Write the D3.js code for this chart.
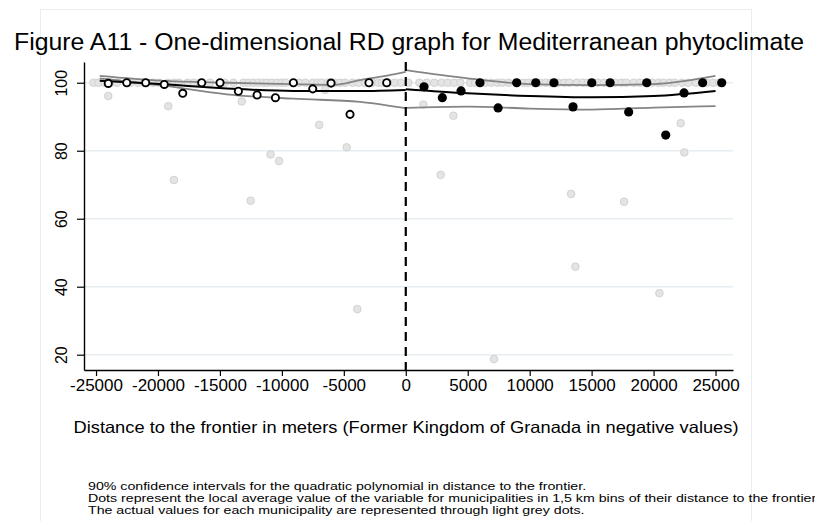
<!DOCTYPE html>
<html lang="en">
<head>
<meta charset="utf-8">
<title>Figure A11</title>
<script src="https://d3js.org/d3.v7.min.js"></script>
<style>
  body { margin: 0; background: #fff; }
  text { font-family: "Liberation Sans", Arial, sans-serif; fill: #000; }
</style>
</head>
<body>
<div id="chart"></div>
<script type="text/javascript">
	// binned averages (1,5 km bins)
	var binLeftX = [-24010, -22520, -20990, -19490, -18000, -16470, -14990, -13510, -12000, -10520, -9070, -7510, -6030, -4500, -2970, -1540],
		binLeftY = [99.8, 100, 100, 99.5, 96.9, 100, 100, 97.5, 96.4, 95.6, 100, 98.2, 99.9, 90.7, 100, 100];
	var binRightX = [1470, 2950, 4460, 5990, 7450, 8950, 10490, 11960, 13500, 15010, 16490, 17990, 19450, 20980, 22460, 23960, 25500],
		binRightY = [98.8, 95.6, 97.6, 100, 92.6, 100, 100, 100, 92.9, 100, 100, 91.4, 100, 84.6, 97, 100, 100];

	// municipalities (light grey)
	var muniX = [-24010, -19170, -18710, -13240, -10910, -10230, -12520, -6990, -6520, -4770, -3910,
				 1420, 3840, 2820, 22190, 22480, 13340, 17620, 13690, 20470, 7120,
				 -25200, -24800, -24300, -23800, -23300, -22200, -21600, -21100, -20400, -19900, -19200, -18700, -18300,
				 -17600, -17100, -16600, -15800, -14600, -13900, -13100, -12700, -12300, -11900, -11500, -11200, -10800,
				 -10400, -10000, -9700, -8600, -8100, -7500, -7100, -6800, -6300, -5700, -5300, -4900, -4300, -3800,
				 -3300, -2700, -2200, -1900, -1400, -900, -400,
				 200, 1100, 1700, 2300, 2900, 3400, 3900, 4400, 5200, 5600, 6400, 6900, 7400, 7800, 8300, 9500, 9900,
				 10300, 10800, 11300, 11700, 12300, 12800, 13200, 13800, 14300, 14700, 15500, 16000, 16900, 17400, 17800,
				 18400, 18900, 19900, 20400, 20800, 21300, 21700, 22300, 22800, 23400, 24300, 24800, 25300],
		muniY = [96.1, 93.1, 71.4, 94.5, 78.9, 77, 65.3, 87.6, 97.9, 81, 33.4,
				 93.6, 90.3, 72.9, 88.1, 79.5, 67.3, 65, 45.9, 38.1, 18.7,
				 100, 100, 100, 100, 100, 100, 100, 100, 100, 100, 100, 100, 100,
				 100, 100, 100, 100, 100, 100, 100, 100, 100, 100, 100, 100, 100,
				 100, 100, 100, 100, 100, 100, 100, 100, 100, 100, 100, 100, 100, 100,
				 100, 100, 100, 100, 100, 100, 100,
				 100, 100, 100, 100, 100, 100, 100, 100, 100, 100, 100, 100, 100, 100, 100, 100, 100,
				 100, 100, 100, 100, 100, 100, 100, 100, 100, 100, 100, 100, 100, 100, 100, 100,
				 100, 100, 100, 100, 100, 100, 100, 100, 100, 100, 100, 100, 100, 100, 100];

	// quadratic fit and 90% CI
	var fitLeftX = [-24700, -19830, -14450, -9080, -3690, 0],
		fitLeftY = [100.6, 99.6, 98.3, 97.6, 97.6, 97.9],
		ciHiLeftX = [-24700, -19830, -14450, -9080, -5800, -3690, -1500, 0],
		ciHiLeftY = [102.0, 100.6, 100.0, 99.6, 99.4, 100.8, 102.1, 103.2],
		ciLoLeftX = [-24700, -19830, -14450, -9080, -3690, 0],
		ciLoLeftY = [101.3, 99.3, 96.6, 95.3, 94.4, 92.5];
	var fitRightX = [0, 5000, 10000, 15000, 20000, 25000],
		fitRightY = [98.1, 96.9, 96.1, 95.7, 96.1, 97.6],
		ciHiRightX = [0, 5000, 10000, 15000, 20000, 25000],
		ciHiRightY = [103.7, 101.3, 99.6, 99.3, 99.6, 102.0],
		ciLoRightX = [0, 5000, 10000, 15000, 20000, 25000],
		ciLoRightY = [92.6, 93.0, 92.4, 92.1, 92.7, 93.1];

	var xTicks = [-25000, -20000, -15000, -10000, -5000, 0, 5000, 10000, 15000, 20000, 25000],
		yTicks = [20, 40, 60, 80, 100];

	var titleText = "Figure A11 - One-dimensional RD graph for Mediterranean phytoclimate",
		xTitle = "Distance to the frontier in meters (Former Kingdom of Granada in negative values)",
		notes = ["90% confidence intervals for the quadratic polynomial in distance to the frontier.",
				 "Dots represent the local average value of the variable for municipalities in 1,5 km bins of their distance to the frontier.",
				 "The actual values for each municipality are represented through light grey dots."];

	var W = 815, H = 521,
		plot = {left: 84, right: 733, top: 62, bottom: 370};

	var svg = d3.select("#chart").append("svg")
		.attr("width", W)
		.attr("height", H);

	// faint outer frame
	svg.append("rect")
		.attr("x", 40.5).attr("y", 9.5)
		.attr("width", 711).attr("height", 540)
		.attr("fill", "none")
		.attr("stroke", "#e9eff1");

	var x = d3.scaleLinear().domain([-25970, 26410]).range([plot.left, plot.right]),
		y = d3.scaleLinear().domain([15.5, 106.1]).range([plot.bottom, plot.top]);

	// grid
	svg.append("g").selectAll("line").data(yTicks).enter().append("line")
		.attr("x1", plot.left).attr("x2", plot.right)
		.attr("y1", function(d){ return y(d); }).attr("y2", function(d){ return y(d); })
		.attr("stroke", "#e6eef2").attr("stroke-width", 1.5);

	// axes
	var xAxis = svg.append("g")
		.attr("transform", "translate(0," + plot.bottom + ")")
		.call(d3.axisBottom(x).tickValues(xTicks).tickSize(6).tickSizeOuter(0).tickPadding(3)
			.tickFormat(function(d){ return String(d); }));
	xAxis.select(".domain").attr("stroke-width", 1.4);
	xAxis.selectAll("line").attr("stroke-width", 1.2);
	xAxis.selectAll("text").style("font-size", "17px").attr("font-family", null);

	var yAxis = svg.append("g")
		.attr("transform", "translate(" + plot.left + ",0)")
		.call(d3.axisLeft(y).tickValues(yTicks).tickSize(7).tickSizeOuter(0)
			.tickFormat(function(d){ return String(d); }));
	yAxis.select(".domain").attr("stroke-width", 1.4);
	yAxis.selectAll("line").attr("stroke-width", 1.2);
	yAxis.selectAll("text")
		.attr("x", null).attr("dy", null)
		.attr("text-anchor", "middle")
		.attr("transform", "translate(-17,0) rotate(-90)")
		.style("font-size", "16px");

	// municipalities
	var muni = muniX.map(function(d, i){ return {x: d, y: muniY[i]}; });
	svg.append("g").selectAll("circle").data(muni).enter().append("circle")
		.attr("cx", function(d){ return x(d.x); })
		.attr("cy", function(d){ return y(d.y); })
		.attr("r", 3.8)
		.attr("fill", "#e4e4e4")
		.attr("stroke", "#d2d2d2")
		.attr("stroke-width", 1);

	// fitted lines
	function drawLine(xs, ys, color, w){
		var pts = xs.map(function(d, i){ return [d, ys[i]]; });
		svg.append("path")
			.datum(pts)
			.attr("fill", "none")
			.attr("stroke", color)
			.attr("stroke-width", w)
			.attr("d", d3.line()
				.curve(d3.curveMonotoneX)
				.x(function(d){ return x(d[0]); })
				.y(function(d){ return y(d[1]); }));
	}
	drawLine(ciHiLeftX, ciHiLeftY, "#858585", 1.8);
	drawLine(ciLoLeftX, ciLoLeftY, "#858585", 1.8);
	drawLine(ciHiRightX, ciHiRightY, "#858585", 1.8);
	drawLine(ciLoRightX, ciLoRightY, "#858585", 1.8);
	drawLine(fitLeftX, fitLeftY, "#000", 2);
	drawLine(fitRightX, fitRightY, "#000", 2);

	// cutoff
	svg.append("line")
		.attr("x1", x(0)).attr("x2", x(0))
		.attr("y1", plot.top).attr("y2", plot.bottom)
		.attr("stroke", "#000").attr("stroke-width", 2.2)
		.attr("stroke-dasharray", "9,6");

	// binned dots
	var binL = binLeftX.map(function(d, i){ return {x: d, y: binLeftY[i]}; }),
		binR = binRightX.map(function(d, i){ return {x: d, y: binRightY[i]}; });
	svg.append("g").selectAll("circle").data(binL).enter().append("circle")
		.attr("cx", function(d){ return x(d.x); })
		.attr("cy", function(d){ return y(d.y); })
		.attr("r", 3.6)
		.attr("fill", "#fff")
		.attr("stroke", "#000")
		.attr("stroke-width", 1.9);
	svg.append("g").selectAll("circle").data(binR).enter().append("circle")
		.attr("cx", function(d){ return x(d.x); })
		.attr("cy", function(d){ return y(d.y); })
		.attr("r", 4.6)
		.attr("fill", "#000");

	// texts
	svg.append("text")
		.attr("x", 409).attr("y", 50)
		.attr("text-anchor", "middle")
		.attr("textLength", 790).attr("lengthAdjust", "spacingAndGlyphs")
		.style("font-size", "23.5px")
		.text(titleText);

	svg.append("text")
		.attr("x", 406).attr("y", 433)
		.attr("text-anchor", "middle")
		.attr("textLength", 665).attr("lengthAdjust", "spacingAndGlyphs")
		.style("font-size", "16.5px")
		.text(xTitle);

	// notes are narrow-tall in the original, so stretch them sideways
	svg.append("g")
		.attr("transform", "translate(88,0) scale(1.245,1)")
		.selectAll("text").data(notes).enter().append("text")
		.attr("x", 0)
		.attr("y", function(d, i){ return 490 + i * 12; })
		.style("font-size", "11.4px")
		.text(function(d){ return d; });
</script>
</body>
</html>
